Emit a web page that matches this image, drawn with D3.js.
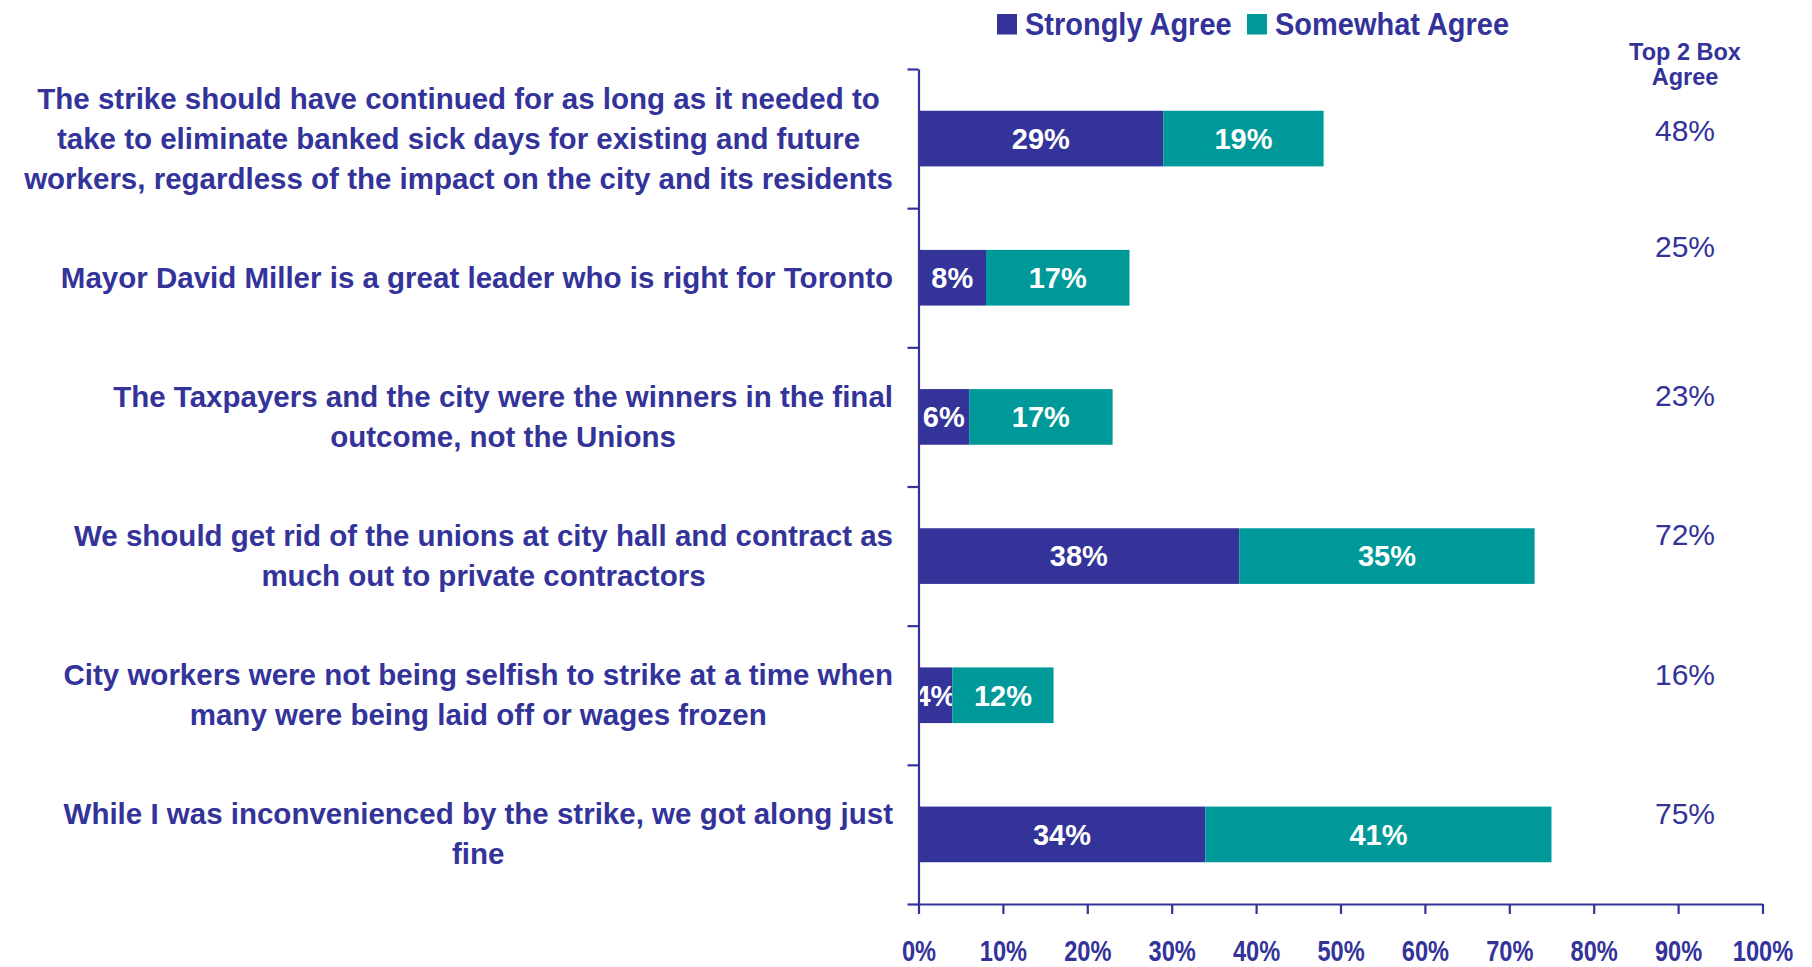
<!DOCTYPE html>
<html>
<head>
<meta charset="utf-8">
<script src="https://cdn.jsdelivr.net/npm/d3@7/dist/d3.min.js"></script>
<style>
  html, body { margin: 0; padding: 0; background: #ffffff; }
  svg { display: block; }
  text { font-family: "Liberation Sans", Arial, Helvetica, sans-serif; }
</style>
</head>
<body>
<svg id="chart" width="1812" height="967"></svg>
<script>
// ---------------- DATA ----------------
const categories = [
  "The strike should have continued for as long as it needed to\ntake to eliminate banked sick days for existing and future\nworkers, regardless of the impact on the city and its residents",
  "Mayor David Miller is a great leader who is right for Toronto",
  "The Taxpayers and the city were the winners in the final\noutcome, not the Unions",
  "We should get rid of the unions at city hall and contract as\nmuch out to private contractors",
  "City workers were not being selfish to strike at a time when\nmany were being laid off or wages frozen",
  "While I was inconvenienced by the strike, we got along just\nfine"
];
const stronglyAgree = [29, 8, 6, 38, 4, 34];
const somewhatAgree = [19, 17, 17, 35, 12, 41];
const top2Box = [48, 25, 23, 72, 16, 75];
const seriesNames = ["Strongly Agree", "Somewhat Agree"];
const xTickValues = [0, 10, 20, 30, 40, 50, 60, 70, 80, 90, 100];
const top2Header = ["Top 2 Box", "Agree"];

// ---------------- LAYOUT / STYLE ----------------
const colors = ["#333399", "#009999"];
const ink = "#333399";
const plotLeft = 918.5, plotRight = 1762.5, plotTop = 69, plotBottom = 904;
const top2X = 1685;
const top2Nudge = [2, -20.7, -11.3, -11, -10, -10.5]; // baseline offset from bar centre
const labelRight = 893;

const svg = d3.select("#chart");

const x = d3.scaleLinear().domain([0, 100]).range([plotLeft, plotRight]);
const y = d3.scaleBand().domain(d3.range(categories.length))
  .range([plotTop, plotBottom]).paddingInner(0.6).paddingOuter(0.3);
const yEdges = d3.scaleLinear().domain([0, categories.length]).range([plotTop, plotBottom]);

// stacked data
const stackInput = categories.map((c, i) => ({ i, s: stronglyAgree[i], w: somewhatAgree[i] }));
const stacked = d3.stack().keys(["s", "w"])(stackInput);

// bars
const layers = svg.append("g").selectAll("g").data(stacked).join("g")
  .attr("fill", (d, k) => colors[k]);
layers.selectAll("rect").data(d => d).join("rect")
  .attr("x", d => x(d[0]))
  .attr("y", d => y(d.data.i))
  .attr("width", d => x(d[1]) - x(d[0]))
  .attr("height", y.bandwidth());

// bar value labels
layers.selectAll("text").data(d => d).join("text")
  .attr("x", d => (x(d[0]) + x(d[1])) / 2)
  .attr("y", d => y(d.data.i) + y.bandwidth() / 2 + 10.3)
  .attr("text-anchor", "middle")
  .attr("fill", "#ffffff")
  .attr("font-weight", "bold")
  .attr("font-size", 29)
  .text(d => (d[1] - d[0]) + "%");

// left axis (ticks at category boundaries)
const yAxis = d3.axisLeft(yEdges).tickValues(d3.range(categories.length + 1))
  .tickFormat("").tickSize(11).tickSizeOuter(0);
const gy = svg.append("g").attr("transform", `translate(${plotLeft},0)`).call(yAxis);
gy.selectAll("path, line").attr("stroke", ink).attr("stroke-width", 2.2);

// bottom axis
const xAxis = d3.axisBottom(x).tickValues(xTickValues)
  .tickFormat(d => d + "%").tickSize(10).tickSizeOuter(0);
const gx = svg.append("g").attr("transform", `translate(0,${plotBottom})`).call(xAxis);
gx.selectAll("path, line").attr("stroke", ink).attr("stroke-width", 2.2);
gx.selectAll("text")
  .attr("y", null).attr("dy", null)
  .attr("transform", "translate(0,57) scale(0.8,1)")
  .attr("fill", ink)
  .attr("font-weight", "bold")
  .attr("font-size", 29.5)
  .attr("font-family", "'Liberation Sans', Arial, sans-serif");
gx.attr("font-size", null).attr("font-family", null);
gy.attr("font-size", null).attr("font-family", null);

// category labels
const lineH = 40;
categories.forEach((c, i) => {
  const lines = c.split("\n");
  const cy = y(i) + y.bandwidth() / 2;
  const t = svg.append("text")
    .attr("fill", ink).attr("font-weight", "bold").attr("font-size", 29.5)
    .attr("text-anchor", "middle");
  const tsp = t.selectAll("tspan").data(lines).join("tspan")
    .attr("y", (d, k) => cy + 10 + (k - (lines.length - 1) / 2) * lineH)
    .text(d => d);
  let maxW = 0;
  tsp.each(function () { maxW = Math.max(maxW, this.getComputedTextLength()); });
  tsp.attr("x", labelRight - maxW / 2);
});

// top 2 box header + values
svg.append("text")
  .attr("fill", ink).attr("font-weight", "bold").attr("font-size", 23.5)
  .attr("text-anchor", "middle")
  .selectAll("tspan").data(top2Header).join("tspan")
  .attr("x", top2X).attr("y", (d, k) => 60 + k * 24.5).text(d => d);

svg.append("g").selectAll("text").data(top2Box).join("text")
  .attr("x", top2X)
  .attr("y", (d, i) => y(i) + y.bandwidth() / 2 + top2Nudge[i])
  .attr("text-anchor", "middle")
  .attr("fill", ink)
  .attr("font-size", 30)
  .text(d => d + "%");

// legend
const legendX = [997, 1247];
const leg = svg.append("g").selectAll("g").data(seriesNames).join("g")
  .attr("transform", (d, k) => `translate(${legendX[k]},0)`);
leg.append("rect").attr("x", 0).attr("y", 14).attr("width", 20).attr("height", 20.5)
  .attr("fill", (d, k) => colors[k]);
leg.append("text")
  .attr("transform", "translate(28,34.5) scale(0.935,1)")
  .attr("fill", ink).attr("font-weight", "bold").attr("font-size", 31)
  .text(d => d);
</script>
</body>
</html>
